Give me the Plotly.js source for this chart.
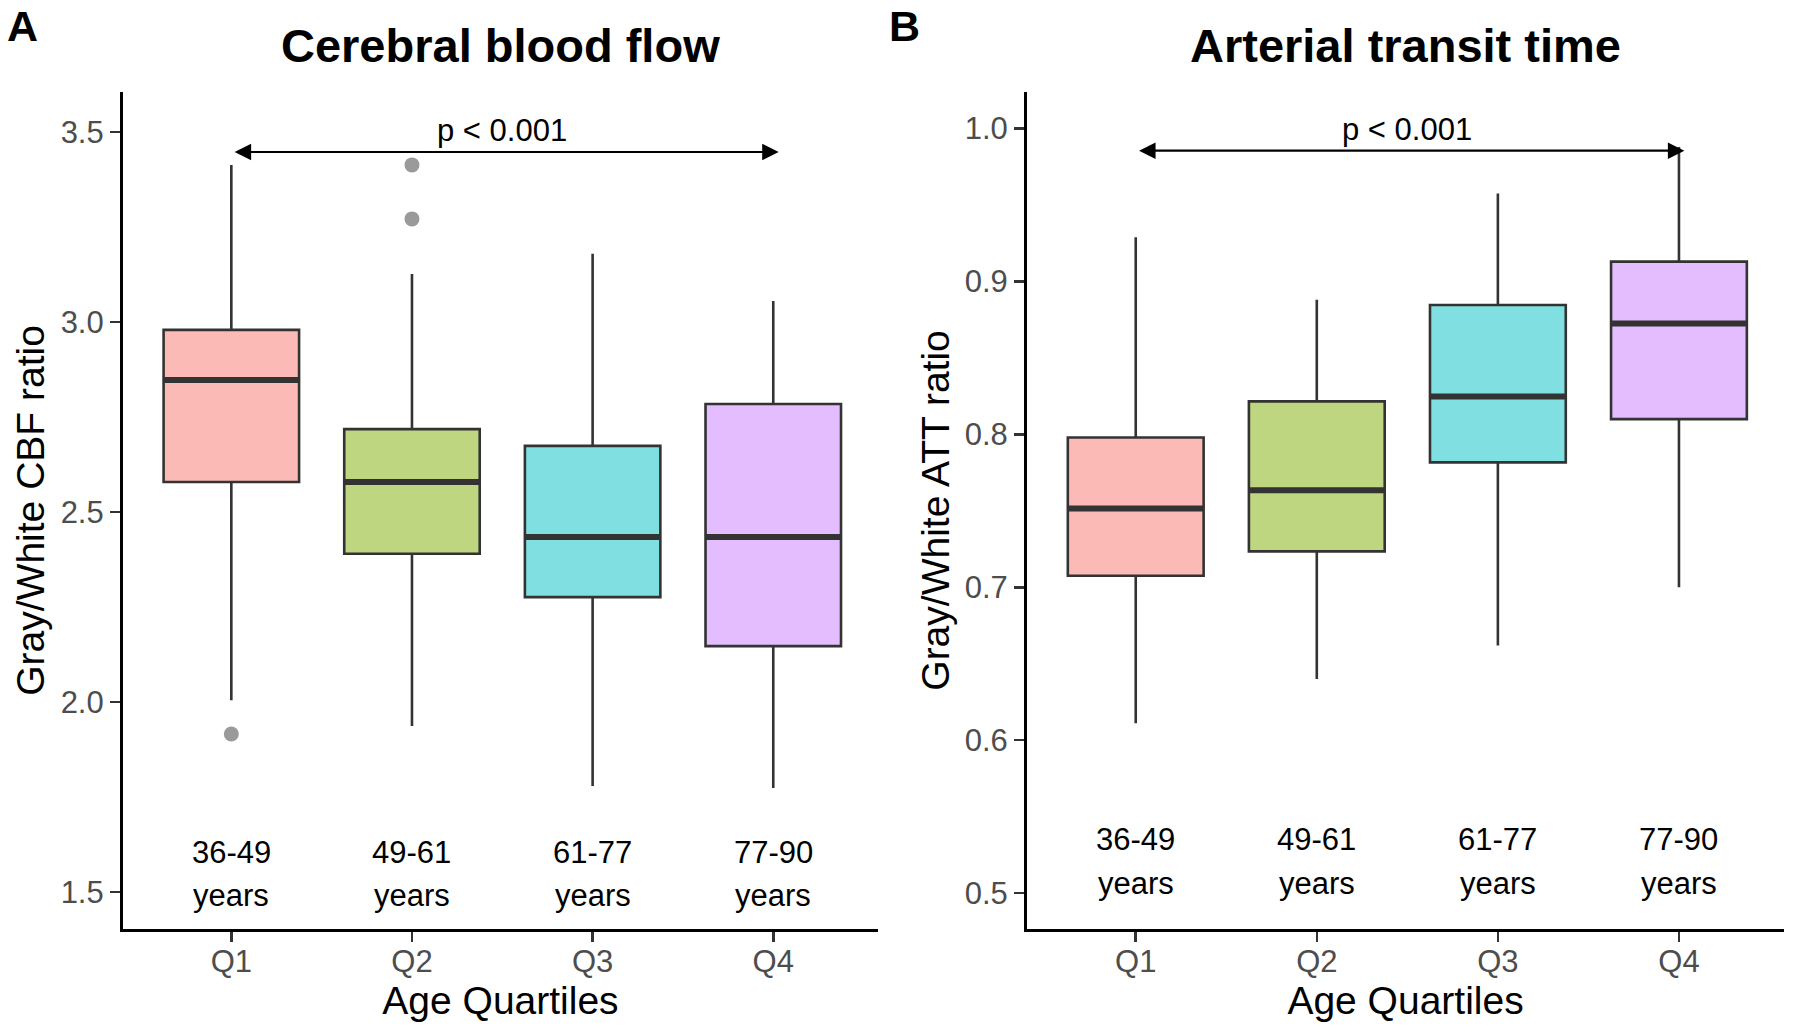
<!DOCTYPE html>
<html>
<head>
<meta charset="utf-8">
<script src="https://cdn.plot.ly/plotly-3.0.1.min.js"></script>
<style>
  html, body { margin: 0; padding: 0; background: #fff; }
  #chart { width: 1800px; height: 1033px; }
</style>
</head>
<body>
<div id="chart"></div>
<script>
var FONT = "Liberation Sans, Arial, Helvetica, sans-serif";

var quartiles = ["Q1", "Q2", "Q3", "Q4"];
var ageRanges = ["36-49", "49-61", "61-77", "77-90"];
var fillColors = ["rgba(248,118,109,0.5)", "rgba(124,174,0,0.5)", "rgba(0,191,196,0.5)", "rgba(199,124,255,0.5)"];

// cerebral blood flow, gray/white ratio
var cbfLower = [2.005, 1.937, 1.779, 1.774];
var cbfQ1 = [2.579, 2.390, 2.276, 2.147];
var cbfMedian = [2.847, 2.579, 2.434, 2.434];
var cbfQ3 = [2.979, 2.718, 2.674, 2.784];
var cbfUpper = [3.413, 3.126, 3.179, 3.055];
var cbfOutlierGroup = ["Q1", "Q2", "Q2"];
var cbfOutlierValue = [1.916, 3.271, 3.413];

// arterial transit time, gray/white ratio
var attLower = [0.611, 0.640, 0.662, 0.700];
var attQ1 = [0.7075, 0.7235, 0.7817, 0.810];
var attMedian = [0.7516, 0.7634, 0.8248, 0.8725];
var attQ3 = [0.798, 0.8216, 0.8846, 0.913];
var attUpper = [0.929, 0.888, 0.9575, 0.988];

var pText = "p < 0.001";

var BOX_WIDTH = 0.75;

var boxTraces = function(xa, ya, lower, q1, median, q3, upper) {
  return quartiles.map(function(q, i) {
    return {
      type: "box",
      xaxis: xa, yaxis: ya,
      x: [i],
      lowerfence: [lower[i]], q1: [q1[i]], median: [median[i]], q3: [q3[i]], upperfence: [upper[i]],
      width: BOX_WIDTH,
      boxpoints: false,
      fillcolor: fillColors[i],
      line: { color: "#333333", width: 2.6 },
      whiskerwidth: 0,
      showlegend: false,
      hoverinfo: "skip"
    };
  });
};

// thicker median bars like ggplot's fatten
var medianTrace = function(xa, ya, median) {
  var xs = [], ys = [];
  median.forEach(function(m, i) {
    xs.push(i - BOX_WIDTH / 2, i + BOX_WIDTH / 2, null);
    ys.push(m, m, null);
  });
  return {
    type: "scatter", mode: "lines", xaxis: xa, yaxis: ya,
    x: xs, y: ys,
    line: { color: "#333333", width: 6 },
    showlegend: false, hoverinfo: "skip"
  };
};

var outlierTrace = {
  type: "scatter", mode: "markers", xaxis: "x", yaxis: "y",
  x: cbfOutlierGroup.map(function(g) { return quartiles.indexOf(g); }),
  y: cbfOutlierValue,
  marker: { color: "#9a9a9a", size: 15, line: { width: 0 } },
  showlegend: false, hoverinfo: "skip"
};

var data = []
  .concat(boxTraces("x", "y", cbfLower, cbfQ1, cbfMedian, cbfQ3, cbfUpper))
  .concat(boxTraces("x2", "y2", attLower, attQ1, attMedian, attQ3, attUpper))
  .concat([medianTrace("x", "y", cbfMedian), medianTrace("x2", "y2", attMedian), outlierTrace]);

var xAxis = function(domain, anchor) {
  return {
    domain: domain, anchor: anchor,
    range: [-0.6, 3.58],
    tickvals: [0, 1, 2, 3], ticktext: quartiles,
    showline: true, linecolor: "#000", linewidth: 3,
    ticks: "outside", ticklen: 10, tickwidth: 2.5, tickcolor: "#333",
    tickfont: { family: FONT, size: 31, color: "#4d4d4d" },
    ticklabelstandoff: -7,
    showgrid: false, zeroline: false,
    title: { text: "Age Quartiles", font: { family: FONT, size: 39, color: "#000" }, standoff: 9 }
  };
};

var yAxis = function(domain, anchor, range, dtick, title) {
  return {
    domain: domain, anchor: anchor,
    range: range, dtick: dtick, tickformat: ".1f",
    showline: true, linecolor: "#000", linewidth: 3,
    ticks: "outside", ticklen: 10, tickwidth: 2.5, tickcolor: "#333",
    tickfont: { family: FONT, size: 31, color: "#4d4d4d" },
    showgrid: false, zeroline: false,
    title: { text: title, font: { family: FONT, size: 39, color: "#000" }, standoff: 4 }
  };
};

var annotations = [];

var addPanelText = function(xr, yr, title, letter, letterX, arrowY, pY, labelY, yearsY) {
  annotations.push({
    xref: xr + " domain", yref: "paper", x: 0.5, y: 0.956, xanchor: "center", yanchor: "middle",
    text: "<b>" + title + "</b>", showarrow: false,
    font: { family: FONT, size: 47, color: "#000" }
  });
  annotations.push({
    xref: "paper", yref: "paper", x: letterX, y: 0.975, xanchor: "left", yanchor: "middle",
    text: "<b>" + letter + "</b>", showarrow: false,
    font: { family: FONT, size: 43, color: "#000" }
  });
  annotations.push({
    xref: xr, yref: yr, x: 3.03, y: arrowY, axref: xr, ayref: yr, ax: 0.01, ay: arrowY,
    text: "", showarrow: true, arrowside: "end+start", arrowhead: 2, arrowsize: 1.5,
    arrowwidth: 2.2, arrowcolor: "#000", standoff: 0, startstandoff: 0
  });
  annotations.push({
    xref: xr, yref: yr, x: 1.5, y: pY, xanchor: "center", yanchor: "middle",
    text: pText, showarrow: false, font: { family: FONT, size: 31, color: "#000" }
  });
  ageRanges.forEach(function(r, i) {
    annotations.push({
      xref: xr, yref: yr, x: i, y: labelY, xanchor: "center", yanchor: "middle",
      text: r, showarrow: false, font: { family: FONT, size: 31, color: "#000" }
    });
    annotations.push({
      xref: xr, yref: yr, x: i, y: yearsY, xanchor: "center", yanchor: "middle",
      text: "years", showarrow: false, font: { family: FONT, size: 31, color: "#000" }
    });
  });
};

addPanelText("x", "y", "Cerebral blood flow", "A", 0.003, 3.447, 3.503, 1.605, 1.492);
addPanelText("x2", "y2", "Arterial transit time", "B", 0.493, 0.9856, 0.9995, 0.5353, 0.506);

var layout = {
  width: 1800, height: 1033,
  margin: { l: 0, r: 0, t: 0, b: 0 },
  paper_bgcolor: "#fff", plot_bgcolor: "#fff",
  font: { family: FONT },
  showlegend: false,
  xaxis: xAxis([0.0683, 0.4878], "y"),
  yaxis: yAxis([0.1007, 0.911], "x", [1.403, 3.605], 0.5, "Gray/White CBF ratio"),
  xaxis2: xAxis([0.5706, 0.9911], "y2"),
  yaxis2: yAxis([0.1007, 0.911], "x2", [0.4765, 1.024], 0.1, "Gray/White ATT ratio"),
  annotations: annotations
};

Plotly.newPlot(document.getElementById("chart"), data, layout, { displayModeBar: false, staticPlot: true });
</script>
</body>
</html>
